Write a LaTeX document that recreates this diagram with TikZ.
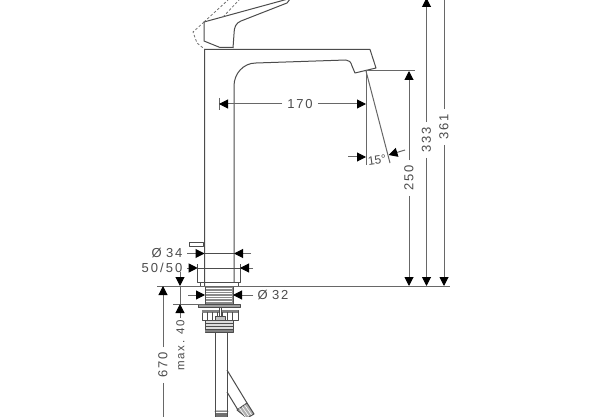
\documentclass[tikz,border=0pt]{standalone}
\usepackage{fontspec}
\setmainfont[LetterSpace=14]{Liberation Sans}
\newfontfamily\tightfont{Liberation Sans}
\usetikzlibrary{arrows.meta,calc}
\definecolor{ink}{gray}{0.3}
\tikzset{
  part/.style={draw=ink,line width=1pt,line join=round},
  thin part/.style={draw=ink,line width=0.5pt},
  ghost/.style={draw=ink!80,line width=0.8pt,dash pattern=on 2.5pt off 2pt},
  dim/.style={draw=ink!85,line width=1pt},
  tip/.style={dim,-{Triangle[length=9pt,width=9pt,black]}},
  lab/.style={font=\fontsize{13}{14}\selectfont,text=ink,inner sep=1pt},
}
\begin{document}
\begin{tikzpicture}[x=1pt,y=-1pt]
\useasboundingbox (0,0) rectangle (600,417);
\fill[white] (0,0) rectangle (600,417);
\clip (0,0) rectangle (600,417);
% handle
\draw[part] (204,22) -- (288,-1) (233,48) -- (234,34) .. controls (234,27) and (236,23) .. (241,21) -- (287,3) -- (290,-1);
\draw[part] (204,22) -- (204,41) -- (220,47.5) -- (233,47.5);
\draw[ghost] (204,22) -- (193,32) -- (197,43) -- (205,49.5);
\draw[ghost] (204,22) -- (228,0) (223,17) -- (239,0);
% body
\draw[part] (204.5,286) -- (204.5,49.5) -- (370,49.5) -- (376,68) -- (355,73) -- (352,66) .. controls (351,62) and (349,60) .. (346,60) -- (256,63) .. controls (243,63) and (234,74) .. (234,86) -- (234,282);
% escutcheon
\draw[part] (197.7,264) -- (197.7,282) -- (240,282) -- (240,264);
\draw[part] (200,282) -- (200,286) (238,282) -- (238,286);
\draw[part] (189,242) rectangle (203,246.5);
% thread
\fill[ink!65] (205,287) rectangle (233,304);
\foreach \y in {288.5,291,293.5,296,298.5,301} \draw[white,line width=0.9pt] (206,\y) -- (232,\y);
\draw[part] (205,286) -- (205,304) (233,286) -- (233,304);
\draw[part,fill=ink!55] (198,304) rectangle (240,307.5);
% nut
\draw[part] (202,310) rectangle (238,320);
\fill[ink!70] (202,310) rectangle (238,313);
\foreach \x in {207,212,217,222,227,232} \draw[thin part,line width=1pt] (\x,312) -- (\x,320);
\draw[part,fill=white] (219,307) rectangle (221,318);
\draw[part,fill=ink!35] (215,316) rectangle (225,321);
\draw[part,fill=ink!20] (205,320) rectangle (233,332);
\foreach \y in {323,326,329} \draw[thin part] (205,\y) -- (233,\y);
\fill[ink!70] (205,329.5) rectangle (233,332);
% pipes
\draw[part] (215.5,332) -- (215.5,417) (227,332) -- (227,417);
\draw[part,fill=white] (215,412) -- (216,411) -- (227,411) -- (228,412);
\fill[ink!80] (216,413) rectangle (227,417);
% hoses
\draw[part] (227,370) -- (247,403) (227,392) -- (238,410);
\draw[part,fill=ink!45] (237,410) -- (247,403) -- (254,414) -- (247,418) -- cycle;
\foreach \t in {0.25,0.5,0.75} \draw[white,line width=0.6pt] ($(237,410)!\t!(247,403)$) -- ++(7,10);
% 170
\coordinate (a170l) at (219,104); \coordinate (a170r) at (366,104);
\node[lab] (t170) at (300,104) {170};
\draw[dim] (219,98) -- (219,110);
\draw[tip] (t170.west) ++(-4,0) -- (a170l);
\draw[tip] (t170.east) ++(4,0) -- (a170r);
% 15 deg
\coordinate (sp) at (366,71);
\draw[dim] (sp) -- (366,165);
\draw[dim] (sp) -- (390,163);
\draw[dim] (sp) -- (415,71);
\coordinate (a15l) at (366,157); \coordinate (a15r) at (388.5,155);
\coordinate (f15l) at (348,157); \coordinate (f15r) at (405,150);
\draw[tip] (f15l) -- (a15l);
\draw[tip] (f15r) -- (a15r);
\node[lab,rotate=8,font=\tightfont\fontsize{12}{13}\selectfont] (t15) at (377,160) {15°};
% heights
\coordinate (base250) at (409,286); \coordinate (top250) at (409,71);
\node[lab,rotate=90] (t250) at (409,178) {250};
\draw[tip] (t250.east) ++(0,-4) -- (top250);
\draw[tip] (t250.west) ++(0,4) -- (base250);
\coordinate (base333) at (426.5,286); \coordinate (top333) at (426.5,-2);
\node[lab,rotate=90] (t333) at (426.5,140) {333};
\draw[tip] (t333.east) ++(0,-4) -- (top333);
\draw[tip] (t333.west) ++(0,4) -- (base333);
\coordinate (base361) at (444,286); \coordinate (top361) at (444,-10);
\node[lab,rotate=90] (t361) at (444,127) {361};
\draw[dim] (t361.east) ++(0,-4) -- (top361);
\draw[tip] (t361.west) ++(0,4) -- (base361);
% baseline
\draw[dim] (157,286) -- (450,286);
% phi 34
\node[lab] (t34) at (167,253) {Ø\,\,34};
\coordinate (a34l) at (204.5,253.5); \coordinate (a34r) at (234,253.5);
\draw[tip] (187,253.5) -- (a34l);
\draw[tip] (251,253.5) -- (a34r);
\draw[thin part] (a34l) -- (a34r);
% 50/50
\node[lab] (t50) at (162,268) {50\,/\,50};
\coordinate (a50l) at (197.7,268); \coordinate (a50r) at (240,268);
\draw[tip] (187,268) -- (a50l);
\draw[tip] (253,268) -- (a50r);
\draw[thin part] (a50l) -- (a50r);
% phi 32
\node[lab] (t32) at (273,295) {Ø\,\,32};
\coordinate (a32l) at (205,295); \coordinate (a32r) at (233,295);
\draw[tip] (188,295) -- (a32l);
\draw[tip] (t32.west) ++(-3,0) -- (a32r);
% max 40
\coordinate (m40t) at (180,286); \coordinate (m40b) at (180,304);
\draw[tip] (180,272) -- (m40t);
\draw[dim] (m40t) -- (m40b);
\draw[dim] (173,304) -- (205,304);
\draw[tip] (180,318) -- (m40b);
\node[lab,rotate=90,font=\fontsize{11.5}{12}\selectfont] (t40) at (180.5,345) {max. 40};
% 670
\coordinate (t670top) at (163,286);
\node[lab,rotate=90] (t670) at (163,365) {670};
\draw[tip] (t670.east) ++(0,-4) -- (t670top);
\draw[dim] (t670.west) ++(0,4) -- (163,417);
\end{tikzpicture}
\end{document}
